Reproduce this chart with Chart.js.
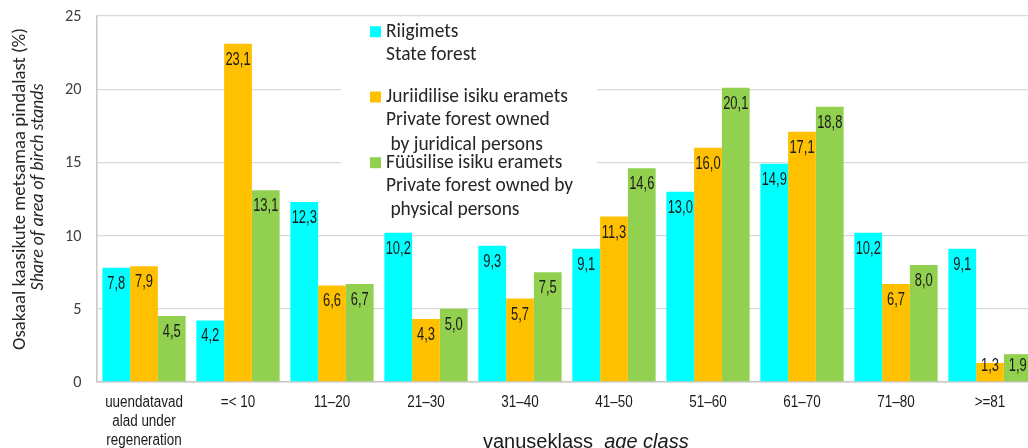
<!DOCTYPE html>
<html><head><meta charset="utf-8">
<script src="https://cdn.jsdelivr.net/npm/chart.js@4/dist/chart.umd.min.js"></script>
<style>
html,body{margin:0;padding:0;background:#fff;overflow:hidden;width:1028px;height:448px;}
#wrap{position:absolute;left:0;top:0;width:1040px;height:448px;}
</style></head>
<body>
<div id="wrap"><canvas id="c" width="1040" height="448"></canvas></div>
<script>
const categories = [["uuendatavad","alad under","regeneration"],"=< 10","11–20","21–30","31–40","41–50","51–60","61–70","71–80",">=81"];
const stateForest = [7.8, 4.2, 12.3, 10.2, 9.3, 9.1, 13.0, 14.9, 10.2, 9.1];
const juridicalForest = [7.9, 23.1, 6.6, 4.3, 5.7, 11.3, 16.0, 17.1, 6.7, 1.3];
const physicalForest = [4.5, 13.1, 6.7, 5.0, 7.5, 14.6, 20.1, 18.8, 8.0, 1.9];
const yTicks = [0, 5, 10, 15, 20, 25];
const legendLines = [
  ["Riigimets", "State forest"],
  ["Juriidilise isiku eramets", "Private forest owned", " by juridical persons"],
  ["Füüsilise isiku eramets", "Private forest owned by", " physical persons"]
];
const yTitle = ["Osakaal kaasikute metsamaa pindalast (%)", "Share of area of birch stands"];
const xTitle = ["vanuseklass", "age class"];

const colors = ["#00FFFF", "#FFC000", "#92D050"];
const ARIAL = '"Liberation Sans", Arial, sans-serif';
const CAL = 'Carlito, Calibri, Lato, sans-serif';

function fitFont(ctx, text, target, style, family) {
  ctx.font = style + ' 100px ' + family;
  const w = ctx.measureText(text).width;
  return style + ' ' + (100 * target / w).toFixed(2) + 'px ' + family;
}
function narrowText(ctx, text, x, y, sx) {
  ctx.save();
  ctx.translate(x, y);
  ctx.scale(sx, 1);
  ctx.fillText(text, 0, 0);
  ctx.restore();
}

const decor = {
  id: 'decor',
  beforeDatasetsDraw(chart) {
    const ctx = chart.ctx;
    ctx.save();
    ctx.fillStyle = '#fff';
    ctx.fillRect(341, 20, 256, 205);
    ctx.restore();
  },
  afterDatasetsDraw(chart) {
    const ctx = chart.ctx;
    ctx.save();
    // value labels
    ctx.font = '18px ' + ARIAL;
    ctx.fillStyle = '#1a1a1a';
    ctx.textAlign = 'center';
    ctx.textBaseline = 'middle';
    const base = chart.scales.y.getPixelForValue(0);
    chart.data.datasets.forEach((ds, di) => {
      chart.getDatasetMeta(di).data.forEach((bar, i) => {
        const y = Math.min(bar.y + 16, base - 16);
        narrowText(ctx, ds.data[i].toFixed(1).replace('.', ','), bar.x, y, 0.72);
      });
    });
    // x tick labels
    const xs = chart.scales.x;
    ctx.font = '16px ' + ARIAL;
    categories.forEach((c, i) => {
      const x = xs.getPixelForTick(i);
      const lines = Array.isArray(c) ? c : [c];
      lines.forEach((t, li) => narrowText(ctx, t, x, 403 + li * 19, 0.84));
    });
    // y tick labels
    const ys = chart.scales.y;
    ctx.font = fitFont(ctx, '25', 16.5, 'normal', CAL);
    ctx.textAlign = 'right';
    ctx.fillStyle = '#404040';
    yTicks.forEach(v => ctx.fillText(String(v), 81.5, ys.getPixelForValue(v) + 1));
    // legend
    const rows = [31.7, 55, 97, 120, 145, 162.7, 185.7, 210];
    ctx.font = fitFont(ctx, legendLines[1][0], 182, 'normal', CAL);
    ctx.textAlign = 'left';
    ctx.fillStyle = '#262626';
    let r = 0;
    legendLines.forEach((lines, gi) => {
      lines.forEach((t, li) => {
        const y = rows[r++];
        if (li === 0) {
          ctx.fillStyle = colors[gi];
          ctx.fillRect(370, y - 5.5, 11, 11);
          ctx.fillStyle = '#262626';
        }
        ctx.fillText(t, 386, y);
      });
    });
    // y title
    ctx.save();
    ctx.translate(20, 189);
    ctx.rotate(-Math.PI / 2);
    ctx.textAlign = 'center';
    ctx.font = fitFont(ctx, yTitle[0], 322, 'normal', CAL);
    ctx.fillStyle = '#262626';
    ctx.fillText(yTitle[0], 0, 0);
    ctx.font = fitFont(ctx, yTitle[1], 207, 'italic', CAL);
    ctx.fillText(yTitle[1], 2, 19);
    ctx.restore();
    // x title
    ctx.font = '20px ' + ARIAL;
    ctx.textBaseline = 'alphabetic';
    ctx.textAlign = 'left';
    ctx.fillStyle = '#1a1a1a';
    ctx.fillText(xTitle[0], 483, 448);
    const w0 = ctx.measureText(xTitle[0] + '  ').width;
    ctx.font = 'italic 20px ' + ARIAL;
    ctx.fillText(xTitle[1], 483 + w0, 448);
    ctx.restore();
  }
};

new Chart(document.getElementById('c'), {
  type: 'bar',
  data: {
    labels: categories,
    datasets: [
      {label: 'Riigimets', data: stateForest, backgroundColor: colors[0]},
      {label: 'Juriidilise isiku eramets', data: juridicalForest, backgroundColor: colors[1]},
      {label: 'Füüsilise isiku eramets', data: physicalForest, backgroundColor: colors[2]}
    ]
  },
  options: {
    responsive: false,
    animation: false,
    events: [],
    layout: {padding: {top: 16, right: 3, left: 0, bottom: 0}},
    datasets: {bar: {categoryPercentage: 0.886, barPercentage: 1.0}},
    plugins: {legend: {display: false}, tooltip: {enabled: false}},
    scales: {
      x: {
        grid: {display: false, drawTicks: false},
        border: {display: true, color: '#c8c8c8', width: 1.5},
        ticks: {display: false},
        afterFit(s) { s.height = 66; s.paddingLeft = 0; s.paddingRight = 0; }
      },
      y: {
        min: 0, max: 25,
        afterBuildTicks(s) { s.ticks = yTicks.map(v => ({value: v})); },
        grid: {color: '#d9d9d9', lineWidth: 1.3, drawTicks: false},
        border: {display: true, color: '#c8c8c8', width: 1.5},
        ticks: {display: false},
        afterFit(s) { s.width = 97; s.paddingTop = 0; s.paddingBottom = 0; }
      }
    }
  },
  plugins: [decor]
});
</script>
</body></html>
